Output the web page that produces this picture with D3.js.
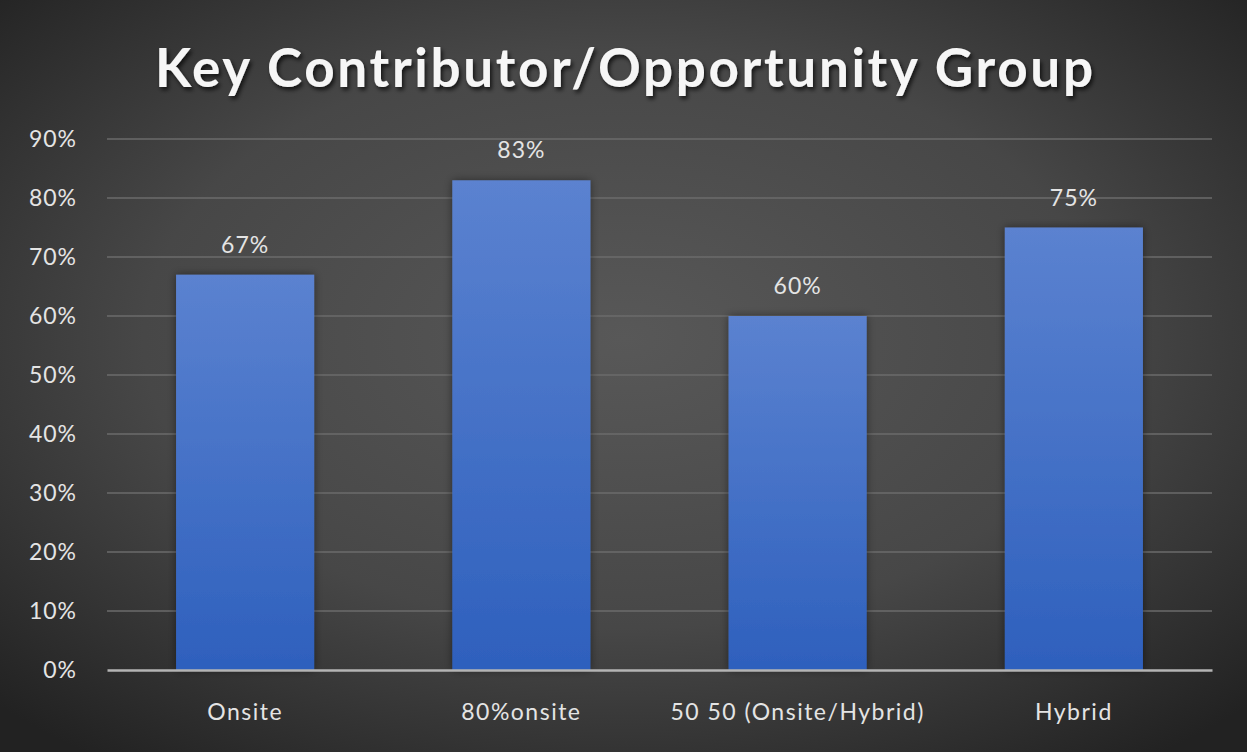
<!DOCTYPE html>
<html>
<head>
<meta charset="utf-8">
<script src="https://cdn.jsdelivr.net/npm/d3@7"></script>
<style>
  html, body { margin: 0; padding: 0; background: #2b2b2b; }
  svg { display: block; }
</style>
</head>
<body>
<script>
// Share of respondents per work arrangement
const categories = ["Onsite", "80%onsite", "50 50 (Onsite/Hybrid)", "Hybrid"];
const values = [0.67, 0.83, 0.60, 0.75];
const yTicks = [0, 0.1, 0.2, 0.3, 0.4, 0.5, 0.6, 0.7, 0.8, 0.9];
const title = "Key Contributor/Opportunity Group";

const W = 1247, H = 752;
const margin = { left: 107, right: 35, top: 139, bottom: 82 };
const FONT = "Lato, 'Open Sans', sans-serif";

const svg = d3.select("body").append("svg")
  .attr("width", W).attr("height", H);

const defs = svg.append("defs");

// dark radial backdrop
const bg = defs.append("radialGradient").attr("id", "bg")
  .attr("cx", "50%").attr("cy", "45%").attr("r", "70%");
bg.append("stop").attr("offset", "0%").attr("stop-color", "#585858");
bg.append("stop").attr("offset", "55%").attr("stop-color", "#474747");
bg.append("stop").attr("offset", "100%").attr("stop-color", "#222222");

// vertical fill for the bars
const barGrad = defs.append("linearGradient").attr("id", "barFill")
  .attr("x1", 0).attr("y1", 0).attr("x2", 0).attr("y2", 1);
barGrad.append("stop").attr("offset", "0%").attr("stop-color", "#5b82d0");
barGrad.append("stop").attr("offset", "100%").attr("stop-color", "#2e60bd");

const shadow = defs.append("filter").attr("id", "barShadow")
  .attr("x", "-20%").attr("y", "-10%").attr("width", "140%").attr("height", "120%");
shadow.append("feDropShadow").attr("dx", 0).attr("dy", 0)
  .attr("stdDeviation", 4).attr("flood-color", "#000").attr("flood-opacity", 0.45);

const titleShadow = defs.append("filter").attr("id", "titleShadow")
  .attr("x", "-10%").attr("y", "-30%").attr("width", "120%").attr("height", "160%");
titleShadow.append("feDropShadow").attr("dx", 2).attr("dy", 3)
  .attr("stdDeviation", 2).attr("flood-color", "#000").attr("flood-opacity", 0.7);

svg.append("rect").attr("width", W).attr("height", H).attr("fill", "url(#bg)");

const x = d3.scaleBand()
  .domain(categories)
  .range([margin.left, W - margin.right])
  .paddingInner(0.5)
  .paddingOuter(0.25);

const y = d3.scaleLinear()
  .domain([0, 0.9])
  .range([H - margin.bottom, margin.top]);

// title
svg.append("text")
  .attr("x", 624).attr("y", 87)
  .attr("text-anchor", "middle")
  .attr("font-family", FONT)
  .attr("font-weight", 700)
  .attr("font-size", 53)
  .attr("textLength", 938)
  .attr("lengthAdjust", "spacing")
  .attr("fill", "#f6f6f6")
  .attr("filter", "url(#titleShadow)")
  .text(title);

// horizontal gridlines
svg.append("g")
  .selectAll("line")
  .data(yTicks.filter(t => t > 0))
  .join("line")
  .attr("x1", margin.left).attr("x2", W - margin.right)
  .attr("y1", d => y(d)).attr("y2", d => y(d))
  .attr("stroke", "#6b6b6b")
  .attr("stroke-width", 1.5);

// y axis labels
const yAxis = d3.axisLeft(y)
  .tickValues(yTicks)
  .tickFormat(d3.format(".0%"))
  .tickSize(0)
  .tickPadding(30);
const yg = svg.append("g")
  .attr("transform", `translate(${margin.left},0)`)
  .call(yAxis);
yg.select(".domain").remove();
yg.selectAll("text")
  .attr("font-family", FONT)
  .attr("font-size", 23)
  .attr("letter-spacing", 1)
  .attr("fill", "#e4e4e4");

// bars
svg.append("g")
  .selectAll("rect")
  .data(values)
  .join("rect")
  .attr("x", (d, i) => x(categories[i]))
  .attr("width", x.bandwidth())
  .attr("y", d => y(d))
  .attr("height", d => y(0) - y(d))
  .attr("fill", "url(#barFill)")
  .attr("filter", "url(#barShadow)");

// value labels
svg.append("g")
  .selectAll("text")
  .data(values)
  .join("text")
  .attr("x", (d, i) => x(categories[i]) + x.bandwidth() / 2)
  .attr("y", d => y(d) - 22)
  .attr("text-anchor", "middle")
  .attr("font-family", FONT)
  .attr("font-size", 23)
  .attr("letter-spacing", 1)
  .attr("fill", "#e4e4e4")
  .text(d => d3.format(".0%")(d));

// baseline and category labels
const xAxis = d3.axisBottom(x).tickSize(0).tickPadding(34);
const xg = svg.append("g")
  .attr("transform", `translate(0,${y(0)})`)
  .call(xAxis);
xg.select(".domain")
  .attr("stroke", "#b4b4b4")
  .attr("stroke-width", 2.5);
xg.selectAll("text")
  .attr("font-family", FONT)
  .attr("font-size", 23)
  .attr("letter-spacing", 1.5)
  .attr("fill", "#e4e4e4");
</script>
</body>
</html>
